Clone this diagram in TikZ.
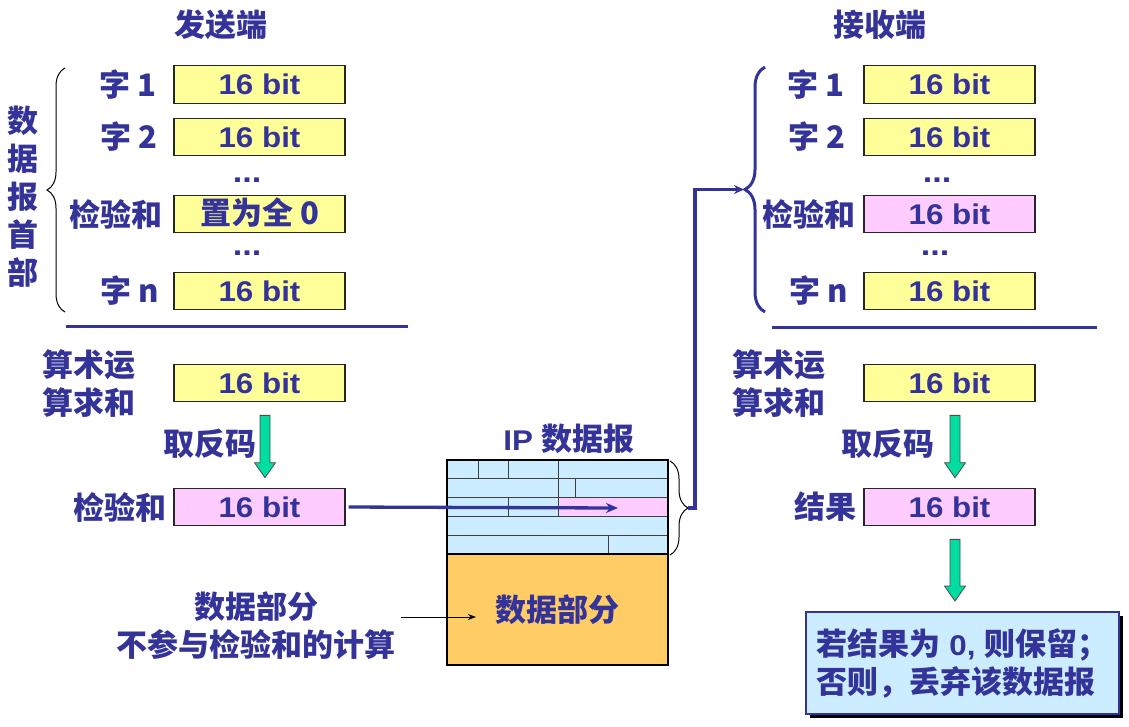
\documentclass[tikz,border=0pt]{standalone}
\usepackage{fontspec}
\setmainfont{Liberation Sans}[FakeStretch=1.1]
\newfontfamily\cjkfont{Noto Sans CJK SC}
\usetikzlibrary{calc,decorations.pathreplacing,arrows.meta,shadows}

\definecolor{tblue}{RGB}{51,51,153}
\definecolor{byellow}{RGB}{255,255,153}
\definecolor{bpink}{RGB}{255,204,255}
\definecolor{lblue}{RGB}{204,236,255}
\definecolor{dorange}{RGB}{255,204,102}
\definecolor{agreen}{RGB}{0,221,160}

\newcommand\basefont{\bfseries\fontsize{28.5}{38}\selectfont}
\newcommand\zhs[1]{{\cjkfont\fontsize{31}{38}\selectfont #1}}
\newcommand\skipdots{{\fontsize{31}{38}\selectfont ...}}

% fat green arrow pointing down from one box to the next
\newcommand\blockarrow[2]{%
  \draw[garrow] let \p1=(#1.south), \p2=(#2.north) in
    ({\x1+0.5pt},{\y1-13pt}) -- ({\x1+10.5pt},{\y1-13pt})
    -- ({\x1+10.5pt},{\y2+25pt}) -- ({\x1+16pt},{\y2+25pt})
    -- ({\x1+5.5pt},{\y2+10pt}) -- ({\x1-5pt},{\y2+25pt})
    -- ({\x1+0.5pt},{\y2+25pt}) -- cycle;}

\begin{document}
\begin{tikzpicture}[x=1pt,y=-1pt,
  every node/.style={inner sep=0pt, text=tblue, font=\basefont},
  wbox/.style={draw=black!85, line width=1.2pt, fill=byellow,
    minimum width=171pt, minimum height=37.5pt, text height=20.4pt, text depth=0pt},
  pbox/.style={wbox, fill=bpink},
  conn/.style={draw=tblue, line width=3.3pt},
  rule/.style={draw=tblue, line width=3pt},
  garrow/.style={fill=agreen, draw=black!70, line width=0.8pt},
  gridline/.style={draw=black!75, line width=1pt},
  fbox/.style={draw=tblue, line width=2pt, fill=lblue, minimum width=313pt,
    minimum height=102pt, align=left,
    drop shadow={shadow xshift=4pt, shadow yshift=-4pt, fill=black, opacity=1}},
]
\useasboundingbox (0,0) rectangle (1129,726);
\fill[white] (0,0) rectangle (1129,726);

% ---------- sender side ----------
\node (sendtitle) at (221,25) {\zhs{发送端}};

\node[wbox] (s1) at (259.5,84.5) {16 bit};
\node[wbox] (s2) at (259.5,137) {16 bit};
\node[wbox] (s3) at (259.5,214) {\zhs{置为全 0}};
\node[wbox] (s4) at (259.5,291) {16 bit};

\node[anchor=east] (sl1) at (157,85) {\zhs{字 1}};
\node[anchor=east] (sl2) at (158,137) {\zhs{字 2}};
\node[anchor=east] (sl3) at (163,214) {\zhs{检验和}};
\node[anchor=east] (sl4) at (159,291) {\zhs{字 n}};
\node (sd1) at (247,180) {\skipdots};
\node (sd2) at (247,253) {\skipdots};

\node[align=center] (hdrlab) at (23,197) {\zhs{数}\\\zhs{据}\\\zhs{报}\\\zhs{首}\\\zhs{部}};
\coordinate (lbA) at (65,312);
\coordinate (lbB) at (65,68);
\draw[line width=1pt, decorate, decoration={brace, amplitude=18pt}] (lbA) -- (lbB);

\coordinate (sruleA) at (66,326);
\coordinate (sruleB) at (408,326);
\draw[rule] (sruleA) -- (sruleB);

\node[anchor=west, align=left] (ssumlab) at (42,384) {\zhs{算术运}\\\zhs{算求和}};
\node[wbox] (ssum) at (259.5,383) {16 bit};
\node[anchor=east] (sinv) at (257,444) {\zhs{取反码}};
\node[anchor=east] (scklab) at (167,507) {\zhs{检验和}};
\node[pbox] (scks) at (259.5,507) {16 bit};
\blockarrow{ssum}{scks}

\node[align=center] (note) at (256,626) {\zhs{数据部分}\\\zhs{不参与检验和的计算}};

% ---------- IP datagram ----------
\node (iptitle) at (569,439) {IP \zhs{数据报}};
\node[fill=lblue, minimum width=221pt, minimum height=94pt] (iphdr) at (557.5,507) {};
\node[draw=black, line width=1.2pt, fill=dorange, minimum width=221pt,
  minimum height=111pt] (ipdata) at (557.5,609.5) {\zhs{数据部分}};
\fill[bpink] (558,497.6) rectangle (668,516.4);
\draw[gridline] (447,478.8) -- (668,478.8) (447,497.6) -- (668,497.6)
  (447,516.4) -- (668,516.4) (447,535.2) -- (668,535.2);
\draw[gridline] (478,460) -- (478,478.8) (508,460) -- (508,478.8) (558,460) -- (558,478.8)
  (558,478.8) -- (558,497.6) (575,478.8) -- (575,497.6)
  (508,497.6) -- (508,516.4) (558,497.6) -- (558,516.4)
  (608,535.2) -- (608,554);
\draw[line width=2.4pt] (iphdr.north west) rectangle (iphdr.south east);

\coordinate (ipbA) at (670,461);
\coordinate (ipbB) at (670,555);
\draw[line width=1pt, decorate, decoration={brace, amplitude=18pt}] (ipbA) -- (ipbB);

\coordinate (ckin) at (618,508);
\draw[conn, shorten <=3pt, -{Stealth[length=12pt,width=10pt]}] (scks.east) -- (ckin);

\coordinate (na) at (401,617);
\coordinate (nb) at (476,617);
\draw[line width=1pt, -{Stealth[length=8pt,width=6pt]}] (na) -- (nb);

% ---------- receiver side ----------
\node (recvtitle) at (880,25) {\zhs{接收端}};

\node[wbox] (r1) at (949.5,84.5) {16 bit};
\node[wbox] (r2) at (949.5,137) {16 bit};
\node[pbox] (r3) at (949.5,214) {16 bit};
\node[wbox] (r4) at (949.5,291) {16 bit};

\node[anchor=east] (rl1) at (845,85) {\zhs{字 1}};
\node[anchor=east] (rl2) at (846,137) {\zhs{字 2}};
\node[anchor=east] (rl3) at (856,214) {\zhs{检验和}};
\node[anchor=east] (rl4) at (848,291) {\zhs{字 n}};
\node (rd1) at (937,180) {\skipdots};
\node (rd2) at (935,253) {\skipdots};

\coordinate (rbA) at (765,312);
\coordinate (rbB) at (765,67);
\draw[draw=tblue, line width=3pt, decorate, decoration={brace, amplitude=20pt}] (rbA) -- (rbB);

\coordinate (ipbtip) at (688,508);
\coordinate (rxtip) at (744,189.5);
\draw[conn, -{Stealth[length=10pt,width=9pt]}] (ipbtip) -- (695,508) |- (rxtip);

\coordinate (rruleA) at (772,327);
\coordinate (rruleB) at (1097,327);
\draw[rule] (rruleA) -- (rruleB);

\node[anchor=west, align=left] (rsumlab) at (732,384) {\zhs{算术运}\\\zhs{算求和}};
\node[wbox] (rsum) at (949.5,383) {16 bit};
\node[anchor=east] (rinv) at (935,444) {\zhs{取反码}};
\node[anchor=east] (reslab) at (857,507) {\zhs{结果}};
\node[pbox] (res) at (949.5,507) {16 bit};
\blockarrow{rsum}{res}

\node[fbox] (verdict) at (962.5,663) {\zhs{若结果为} 0, \zhs{则保留；}\\\zhs{否则，丢弃该数据报}};
\blockarrow{res}{verdict}
\end{tikzpicture}
\end{document}
